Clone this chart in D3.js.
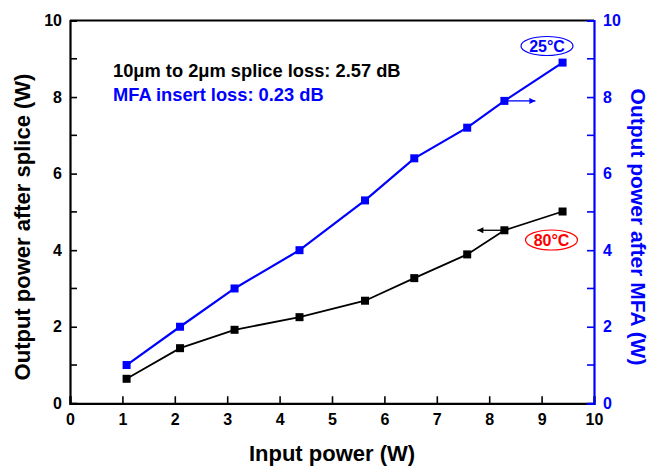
<!DOCTYPE html>
<html><head><meta charset="utf-8">
<script src="https://cdn.jsdelivr.net/npm/d3@7"></script>
<style>body{margin:0;background:#fff}svg{display:block}text{font-family:Arial,"Liberation Sans",sans-serif;font-weight:bold}</style>
</head><body><svg id="c" width="651" height="466"></svg>
<script>
const inputPower = [1.08, 2.1, 3.14, 4.38, 5.63, 6.57, 7.58, 8.29, 9.40];
const afterSplice = [0.64, 1.44, 1.92, 2.25, 2.68, 3.27, 3.89, 4.52, 5.01];
const afterMFA = [1.0, 2.0, 3.0, 4.0, 5.3, 6.4, 7.2, 7.9, 8.9];
const xTicks = [0,1,2,3,4,5,6,7,8,9,10];
const yTicks = [0,2,4,6,8,10];
const yMinor = [1,3,5,7,9];

const svg = d3.select("#c");
const L=70, R=594, T=20.5, B=403.3;
const x = d3.scaleLinear().domain([0,10]).range([L,R]);
const yl = d3.scaleLinear().domain([0,10]).range([B,T]);
const yr = d3.scaleLinear().domain([0,10]).range([B,T]);
const blue="#0000ff";

// top border
svg.append("line").attr("x1",L).attr("x2",R).attr("y1",T).attr("y2",T).attr("stroke","#000").attr("stroke-width",2);

// bottom axis
const gx = svg.append("g").attr("transform",`translate(0,${B})`)
  .call(d3.axisBottom(x).tickValues(xTicks).tickSize(-7).tickPadding(10).tickFormat(d3.format("d")));
gx.select(".domain").attr("stroke","#000").attr("stroke-width",2.2);
gx.selectAll(".tick line").attr("stroke","#000").attr("stroke-width",1.6);
gx.selectAll("text").attr("font-size",16).attr("fill","#000").style("font-weight","bold");

// left axis
const gl = svg.append("g").attr("transform",`translate(${L},0)`)
  .call(d3.axisLeft(yl).tickValues(yTicks).tickSize(-7).tickPadding(8).tickFormat(d3.format("d")));
gl.select(".domain").attr("stroke","#000").attr("stroke-width",2.2);
gl.selectAll(".tick line").attr("stroke","#000").attr("stroke-width",1.6);
gl.selectAll("text").attr("font-size",16).attr("fill","#000").style("font-weight","bold");
gl.selectAll(".minor").data(yMinor).enter().append("line")
  .attr("x1",0).attr("x2",7).attr("y1",d=>yl(d)).attr("y2",d=>yl(d)).attr("stroke","#000").attr("stroke-width",1.6);

// right axis
const gr = svg.append("g").attr("transform",`translate(${R},0)`)
  .call(d3.axisRight(yr).tickValues(yTicks).tickSize(-7).tickPadding(9).tickFormat(d3.format("d")));
gr.select(".domain").attr("stroke",blue).attr("stroke-width",2.2);
gr.selectAll(".tick line").attr("stroke",blue).attr("stroke-width",1.6);
gr.selectAll("text").attr("font-size",16).attr("fill",blue).style("font-weight","bold");
gr.selectAll(".minor").data(yMinor).enter().append("line")
  .attr("x1",0).attr("x2",-7).attr("y1",d=>yr(d)).attr("y2",d=>yr(d)).attr("stroke",blue).attr("stroke-width",1.6);

// axis titles
svg.append("text").attr("x",(L+R)/2).attr("y",461).attr("text-anchor","middle").attr("font-size",22).text("Input power (W)");
svg.append("text").attr("transform",`translate(30,227) rotate(-90)`).attr("text-anchor","middle").attr("font-size",22).text("Output power after splice (W)");
svg.append("text").attr("transform",`translate(631,227) rotate(90)`).attr("text-anchor","middle").attr("font-size",21).attr("fill",blue).text("Output power after MFA (W)");

// lines
const black = inputPower.map((v,i)=>[v,afterSplice[i]]);
const mfa = inputPower.map((v,i)=>[v,afterMFA[i]]);
svg.append("path").datum(black).attr("fill","none").attr("stroke","#000").attr("stroke-width",1.8)
  .attr("d",d3.line().x(d=>x(d[0])).y(d=>yl(d[1])));
svg.append("path").datum(mfa).attr("fill","none").attr("stroke",blue).attr("stroke-width",2.2)
  .attr("d",d3.line().x(d=>x(d[0])).y(d=>yr(d[1])));
const s=8;
svg.selectAll(".mb").data(black).enter().append("rect").attr("x",d=>x(d[0])-s/2).attr("y",d=>yl(d[1])-s/2).attr("width",s).attr("height",s).attr("fill","#000");
svg.selectAll(".mm").data(mfa).enter().append("rect").attr("x",d=>x(d[0])-s/2).attr("y",d=>yr(d[1])-s/2).attr("width",s).attr("height",s).attr("fill",blue);

// arrows
const defs = svg.append("defs");
function marker(id,color){
  defs.append("marker").attr("id",id).attr("viewBox","0 0 10 10").attr("refX",10).attr("refY",5)
    .attr("markerWidth",12).attr("markerHeight",6).attr("markerUnits","userSpaceOnUse").attr("orient","auto")
    .append("path").attr("d","M0,0 L10,5 L0,10 z").attr("fill",color);
}
marker("ab",blue); marker("ak","#000");
const pb = mfa[7], pk = black[7];
svg.append("line").attr("x1",x(pb[0])).attr("y1",yr(pb[1])).attr("x2",x(pb[0])+31).attr("y2",yr(pb[1]))
  .attr("stroke",blue).attr("stroke-width",1.3).attr("marker-end","url(#ab)");
svg.append("line").attr("x1",x(pk[0])).attr("y1",yl(pk[1])).attr("x2",x(pk[0])-27).attr("y2",yl(pk[1]))
  .attr("stroke","#000").attr("stroke-width",1.3).attr("marker-end","url(#ak)");

// annotations
svg.append("text").attr("x",113).attr("y",77).attr("font-size",18.3).attr("fill","#000").text("10\u03bcm to 2\u03bcm splice loss: 2.57 dB");
svg.append("text").attr("x",113).attr("y",101).attr("font-size",18.3).attr("fill",blue).text("MFA insert loss: 0.23 dB");

svg.append("ellipse").attr("cx",547).attr("cy",46).attr("rx",26).attr("ry",9.5).attr("fill","none").attr("stroke",blue).attr("stroke-width",1.2);
svg.append("text").attr("x",547).attr("y",51.5).attr("text-anchor","middle").attr("font-size",16).attr("fill",blue).text("25°C");
svg.append("ellipse").attr("cx",551.5).attr("cy",240).attr("rx",26).attr("ry",10).attr("fill","none").attr("stroke","#ff0000").attr("stroke-width",1.2);
svg.append("text").attr("x",551.5).attr("y",245.5).attr("text-anchor","middle").attr("font-size",16).attr("fill","#ff0000").text("80°C");
</script></body></html>
